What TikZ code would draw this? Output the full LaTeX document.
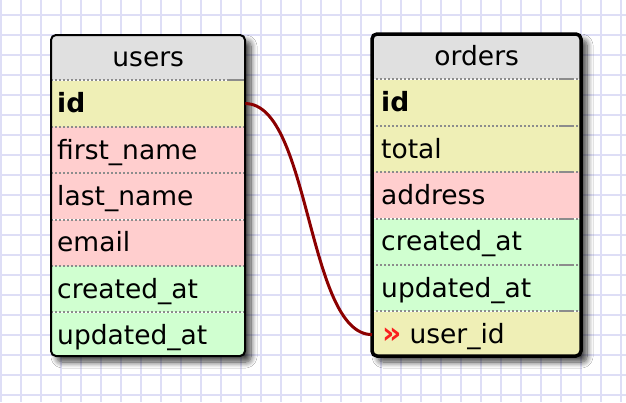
\documentclass[tikz,border=0pt]{standalone}
\usepackage{fontspec}
\setmainfont{DejaVu Sans}
\usetikzlibrary{shadows.blur}

\definecolor{gridblue}{RGB}{222,222,246}
\definecolor{headgrey}{RGB}{224,224,224}
\definecolor{keyyellow}{RGB}{239,239,182}
\definecolor{textpink}{RGB}{255,206,206}
\definecolor{timegreen}{RGB}{208,255,208}
\definecolor{linkred}{RGB}{140,0,0}
\definecolor{fkred}{RGB}{250,30,30}
\definecolor{sepgrey}{RGB}{140,140,140}

\tikzset{
    gridline/.style={gridblue, line width=2pt},
    cell/.style={anchor=north west, inner ysep=0pt, text height=22pt, text depth=4pt,
        font=\fontsize{26.5}{31}\selectfont},
    head/.style={cell, fill=headgrey, minimum width=#1, minimum height=45pt, align=center},
    field/.style={cell, minimum height=46pt, text width=#1, align=left},
    sep/.style={sepgrey, line width=2pt, dash pattern=on 2pt off 2pt},
    septail/.style={sepgrey, line width=2pt},
    tableshadow/.style={white, rounded corners=5pt,
        blur shadow={shadow xshift=6pt, shadow yshift=-6pt, shadow blur radius=6pt,
            shadow opacity=75, shadow blur steps=10}},
    link/.style={linkred, line width=3pt}
}

\begin{document}
\begin{tikzpicture}[x=1pt, y=-1pt]

    \useasboundingbox (0,0) rectangle (626,402);

    % Background grid
    \fill[white] (0,0) rectangle (626,402);
    \foreach \x in {1,21,...,621} {
        \draw[gridline] (\x,0) -- (\x,402);
    }
    \foreach \y in {15,35,...,395} {
        \draw[gridline] (0,\y) -- (626,\y);
    }

    % Table users
    \fill[tableshadow] (51,35) rectangle (245,356);
    \begin{scope}[field/.append style={inner xsep=6pt}]
        \clip[rounded corners=5pt] (51,35) rectangle (245,356);
        \node[head=194pt] (users) at (51,35) {users};
        \node[field=182pt, fill=keyyellow] (users-id) at (users.south west) {\textbf{id}};
        \node[field=182pt, fill=textpink] (users-first) at (users-id.south west) {first\_name};
        \node[field=182pt, fill=textpink] (users-last) at (users-first.south west) {last\_name};
        \node[field=182pt, fill=textpink] (users-email) at (users-last.south west) {email};
        \node[field=182pt, fill=timegreen] (users-created) at (users-email.south west) {created\_at};
        \node[field=182pt, fill=timegreen] (users-updated) at (users-created.south west) {updated\_at};
        \foreach \n in {users,users-id,users-first,users-last,users-email,users-created} {
            \draw[sep] (\n.south west) -- (\n.south east);
        }
        \draw[septail] ([xshift=-16pt]users.south east) -- (users.south east);
    \end{scope}
    \draw[line width=2pt, rounded corners=5pt] (51,35) rectangle (245,356);

    % Table orders
    \fill[tableshadow] (372,34) rectangle (581,356);
    \begin{scope}[field/.append style={inner xsep=9pt}]
        \clip[rounded corners=5pt] (372,34) rectangle (581,356);
        \node[head=209pt] (orders) at (372,34) {orders};
        \node[field=191pt, fill=keyyellow] (orders-id) at (orders.south west) {\textbf{id}};
        \node[field=191pt, fill=keyyellow] (orders-total) at (orders-id.south west) {total};
        \node[field=191pt, fill=textpink] (orders-address) at (orders-total.south west) {address};
        \node[field=191pt, fill=timegreen] (orders-created) at (orders-address.south west) {created\_at};
        \node[field=191pt, fill=timegreen] (orders-updated) at (orders-created.south west) {updated\_at};
        \node[field=191pt, fill=keyyellow] (orders-userid) at (orders-updated.south west)
            {\hspace{1pt}{\color{fkred}\bfseries\fontsize{30}{31}\selectfont »}\hspace{8pt}user\_id};
        \foreach \n in {orders,orders-id,orders-total,orders-address,orders-created,orders-updated} {
            \draw[sep] (\n.south west) -- (\n.south east);
            \draw[septail] ([xshift=-22pt]\n.south east) -- ([xshift=-8pt]\n.south east);
        }
    \end{scope}
    \draw[line width=3.5pt, rounded corners=5pt] (372,34) rectangle (581,356);

    % Relation users.id -> orders.user_id
    \draw[link] (users-id.east) .. controls +(65,0) and +(-65,0) .. (orders-userid.west);

\end{tikzpicture}
\end{document}
